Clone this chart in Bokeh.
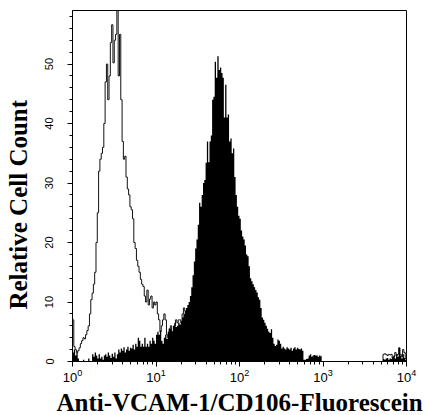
import numpy as np
from bokeh.plotting import figure
from bokeh.models import Range1d, FixedTicker, LogTickFormatter
from bokeh.embed import file_html
from bokeh.resources import INLINE

# ---- data (channel counts, 256 log channels over 4 decades) ----
N_CHANNELS = 256
DECADES = 4

control_counts = [
    7.0, 2.5, 2.0, 1.5, 1.8, 2.3, 3.0, 3.5, 4.0, 3.8,
    4.5, 5.2, 6.0, 8.0, 10.4, 11.5, 13.0, 15.0, 20.0, 25.0,
    32.0, 34.0, 35.0, 36.0, 40.0, 47.0, 50.0, 44.0, 48.0, 53.6,
    56.6, 50.2, 54.0, 55.0, 60.0, 48.0, 55.0, 44.0, 37.0, 34.0,
    34.5, 31.0, 29.0, 28.0, 26.0, 25.5, 24.0, 20.0, 19.0, 17.0,
    16.0, 15.0, 13.8, 13.0, 12.6, 11.0, 10.0, 12.0, 9.5, 10.5,
    11.0, 9.0, 10.0, 9.5, 10.0, 8.0, 7.0, 5.0, 6.0, 7.0,
    8.0, 7.0, 4.5, 4.0, 5.5, 6.0, 5.0, 4.5, 6.0, 7.0,
    6.5, 7.0, 7.0, 6.5, 8.0, 9.0, 8.5, 6.0, 5.0, 4.0,
    3.5, 3.0, 2.5, 2.5, 2.0, 2.0, 1.5, 1.5, 1.0, 1.0,
    1.0, 0.8, 0.8, 0.6, 0.6, 0.5, 0.5, 0.4, 0.3, 0.2,
    0, 0, 0, 0, 0, 0, 0, 0, 0, 0,
    0, 0, 0, 0, 0, 0, 0, 0, 0, 0,
    0, 0, 0, 0, 0, 0, 0, 0, 0, 0,
    0, 0, 0, 0, 0, 0, 0, 0, 0, 0,
    0, 0, 0, 0, 0, 0, 0, 0, 0, 0,
    0, 0, 0, 0, 0, 0, 0, 0, 0, 0,
    0, 0, 0, 0, 0, 0, 0, 0, 0, 0,
    0, 0, 0, 0, 0, 0, 0, 0, 0, 0,
    0, 0, 0, 0, 0, 0, 0, 0, 0, 0,
    0, 0, 0, 0, 0, 0, 0, 0, 0, 0,
    0, 0, 0, 0, 0, 0, 0, 0, 0, 0,
    0, 0, 0, 0, 0, 0, 0, 0, 0, 0,
    0, 0, 0, 0, 0, 0, 0, 0, 1.2, 1.3,
    1.2, 1.0, 1.2, 1.1, 1.2, 0.5, 0.8, 1.5, 1.0, 1.2,
    2.3, 1.2, 0.8, 2.0, 1.5, 0.5,
]

vcam_counts = [
    1.5, 2.0, 1.0, 1.5, 0.5, 0.0, 0.0, 0.0, 0.3, 0.0,
    0.0, 0.0, 0.5, 0.0, 0.0, 1.2, 0.8, 1.5, 1.0, 0.5,
    1.2, 0.5, 0.8, 0.3, 1.0, 1.2, 0.8, 1.5, 1.0, 0.6,
    1.3, 0.8, 1.5, 0.5, 1.2, 2.0, 1.5, 2.2, 1.8, 2.4,
    1.5, 2.0, 2.5, 1.8, 2.3, 2.2, 2.8, 2.0, 3.0, 2.5,
    4.0, 3.5, 2.5, 3.0, 2.5, 4.0, 2.5, 3.0, 2.5, 3.5,
    3.0, 4.0, 3.5, 3.0, 4.5, 5.0, 4.5, 5.2, 3.5, 3.0,
    4.0, 4.5, 3.8, 5.0, 5.5, 5.5, 5.0, 6.0, 6.5, 5.8,
    6.0, 6.5, 6.2, 6.8, 7.4, 8.0, 8.5, 9.0, 9.5, 10.0,
    11.0, 12.5, 14.5, 16.8, 19.0, 20.5, 23.0, 26.7, 26.0, 28.0,
    30.0, 30.5, 33.4, 37.0, 33.5, 37.0, 38.0, 44.0, 44.5, 50.4,
    47.7, 51.3, 49.0, 49.4, 48.5, 47.7, 41.0, 46.5, 41.0, 41.5,
    37.0, 37.5, 35.0, 35.8, 31.0, 28.0, 26.0, 24.5, 24.0, 22.0,
    21.0, 20.5, 19.5, 18.0, 17.7, 16.0, 14.0, 13.5, 13.0, 12.5,
    12.0, 11.6, 10.8, 10.4, 9.0, 7.4, 7.0, 6.5, 6.0, 5.5,
    5.0, 4.8, 5.4, 4.0, 3.0, 2.6, 2.8, 3.7, 3.5, 3.0,
    2.2, 2.5, 2.2, 2.0, 2.4, 2.2, 2.0, 2.3, 1.8, 2.2,
    2.4, 2.0, 2.3, 2.1, 2.0, 2.2, 1.8, 0.3, 0.3, 0.4,
    0.5, 1.0, 1.2, 0.8, 1.0, 1.1, 1.0, 1.0, 0.8, 1.0,
    0.9, 0, 0, 0, 0, 0, 0, 0, 0, 0,
    0, 0, 0, 0, 0, 0, 0, 0, 0, 0,
    0, 0, 0, 0, 0, 0, 0, 0, 0, 0,
    0, 0, 0, 0, 0, 0, 0, 0, 0, 0,
    0, 0, 0, 0, 0, 0, 0, 0, 0.4, 0.3,
    0.5, 0.6, 0.3, 0.5, 0.4, 0.8, 1.0, 0.5, 1.2, 0.8,
    2.3, 1.0, 0.5, 1.2, 0.6, 0.3,
]

x_major_ticks = [1, 10, 100, 1000, 10000]
y_major_ticks = [0, 10, 20, 30, 40, 50]
x_label = "Anti-VCAM-1/CD106-Fluorescein"
y_label = "Relative Cell Count"

# ---- build ----
edges = 10 ** (np.arange(N_CHANNELS + 1) * DECADES / N_CHANNELS)
ctrl = np.append(np.array(control_counts, dtype=float), control_counts[-1])
vcam = np.append(np.array(vcam_counts, dtype=float), vcam_counts[-1])

p = figure(
    x_axis_type="log",
    x_range=Range1d(1, 10000),
    y_range=Range1d(0, 59),
    frame_width=334, frame_height=351,
    min_border_left=72, min_border_right=18,
    min_border_top=10, min_border_bottom=46,
    output_backend="svg", toolbar_location=None,
)

p.step(edges, ctrl, mode="after", line_color="#111111", line_width=1)
p.varea_step(x=edges, y1=0, y2=vcam, step_mode="after", fill_color="black")

p.grid.visible = False
p.outline_line_color = "black"
p.outline_line_width = 1
p.background_fill_color = "white"
p.border_fill_color = "white"

minor_x = [m * 10 ** d for d in range(4) for m in range(2, 10)]
p.xaxis.ticker = FixedTicker(ticks=x_major_ticks, minor_ticks=minor_x)
p.xaxis.formatter = LogTickFormatter()
p.yaxis.ticker = FixedTicker(ticks=y_major_ticks, minor_ticks=list(range(0, 59, 2)))

for ax in (p.xaxis[0], p.yaxis[0]):
    ax.axis_line_color = "black"
    ax.major_tick_line_color = "black"
    ax.minor_tick_line_color = "black"
    ax.major_tick_in = 0
    ax.major_tick_out = 5
    ax.minor_tick_in = 0
    ax.minor_tick_out = 3
    ax.major_label_text_font = "Liberation Sans"
    ax.major_label_text_color = "black"
    ax.axis_label_text_font = "Liberation Serif"
    ax.axis_label_text_font_style = "bold"
    ax.axis_label_text_font_size = "25px"
    ax.axis_label_text_color = "black"

p.xaxis.major_label_text_font_size = "13px"
p.yaxis.major_label_text_font_size = "11px"
p.yaxis.major_label_orientation = "vertical"
p.yaxis.major_label_standoff = 14
p.xaxis.major_label_standoff = 2
p.xaxis.axis_label_standoff = 4
p.yaxis.axis_label_standoff = 11
p.xaxis.axis_label = x_label
p.yaxis.axis_label = y_label + "\u00a0" * 6

open("out.html", "w").write(file_html(p, INLINE))
